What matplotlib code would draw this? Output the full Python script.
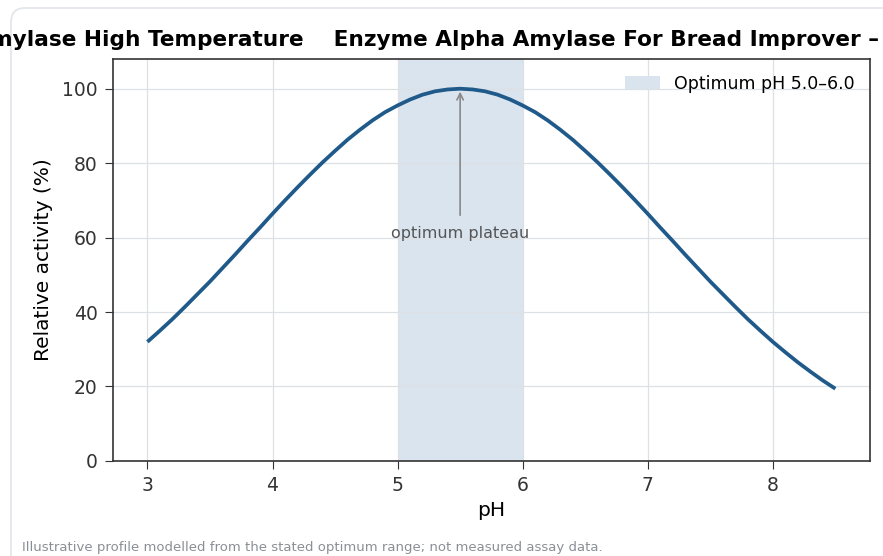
import matplotlib.pyplot as plt
from matplotlib.patches import FancyBboxPatch
from matplotlib.transforms import IdentityTransform

# pH profile (0.1 pH steps)
ph = [3.0, 3.1, 3.2, 3.3, 3.4, 3.5, 3.6, 3.7, 3.8, 3.9,
      4.0, 4.1, 4.2, 4.3, 4.4, 4.5, 4.6, 4.7, 4.8, 4.9,
      5.0, 5.1, 5.2, 5.3, 5.4, 5.5, 5.6, 5.7, 5.8, 5.9,
      6.0, 6.1, 6.2, 6.3, 6.4, 6.5, 6.6, 6.7, 6.8, 6.9,
      7.0, 7.1, 7.2, 7.3, 7.4, 7.5, 7.6, 7.7, 7.8, 7.9,
      8.0, 8.1, 8.2, 8.3, 8.4, 8.5]
activity = [32.0, 35.0, 38.1, 41.4, 44.8, 48.2, 51.8, 55.4, 59.1, 62.7,
            66.4, 70.0, 73.5, 76.9, 80.2, 83.3, 86.3, 89.0, 91.5, 93.7,
            95.5, 97.1, 98.4, 99.3, 99.8, 100.0, 99.8, 99.3, 98.4, 97.1,
            95.5, 93.7, 91.5, 89.0, 86.3, 83.3, 80.2, 76.9, 73.5, 70.0,
            66.4, 62.7, 59.1, 55.4, 51.8, 48.2, 44.8, 41.4, 38.1, 35.0,
            32.0, 29.2, 26.5, 24.0, 21.6, 19.4]
opt_range = (5.0, 6.0)
opt_peak = 5.5

title = "Alpha Amylase High Temperature    Enzyme Alpha Amylase For Bread Improver \u2013 pH Activity Profile"
note = "Illustrative profile modelled from the stated optimum range; not measured assay data."

fig = plt.figure(figsize=(8.83, 5.56), dpi=100)
ax = fig.add_axes([0.128, 0.171, 0.857, 0.723])

# card border (clipped on the right like the original)
card = FancyBboxPatch((11, -30), 920, 578, boxstyle="round,pad=0,rounding_size=14",
                      fc="none", ec="#e3e6ea", lw=1.3, transform=IdentityTransform())
fig.patches.append(card)

ax.axvspan(opt_range[0], opt_range[1], color="#dae4ee", zorder=0.3, lw=0,
           label="Optimum pH 5.0\u20136.0")
ax.plot(ph, activity, color="#1f5a8a", lw=2.7, zorder=3, solid_capstyle="butt")

ax.annotate("optimum plateau", xy=(opt_peak, 99.2), xytext=(opt_peak, 61),
            ha="center", va="center", fontsize=11.5, color="#555555",
            arrowprops=dict(arrowstyle="->", color="#888888", lw=1.2, shrinkA=6, shrinkB=0))

ax.set_xlim(2.725, 8.775)
ax.set_ylim(0, 108)
ax.set_xticks([3, 4, 5, 6, 7, 8])
ax.set_yticks([0, 20, 40, 60, 80, 100])
ax.set_axisbelow(True)
ax.grid(True, color="#dde1e6", lw=0.9)
ax.tick_params(labelsize=13.5, colors="#333333", length=6, pad=5)
for s in ax.spines.values():
    s.set_color("#333333")
    s.set_linewidth(1.2)
ax.set_xlabel("pH", fontsize=14.5, labelpad=4.5)
ax.set_ylabel("Relative activity (%)", fontsize=14.5, labelpad=6.5)
ax.legend(loc="upper right", frameon=False, fontsize=12.5, handlelength=2.0)

# title placed so that the visible part lines up with the original crop
tsize = 15.6
t = fig.text(0, 0.928, title, fontsize=tsize, fontweight="bold", ha="left", va="center")
r = fig.canvas.get_renderer()
pre = fig.text(0, 0, "Alpha Amylase High Temperature", fontsize=tsize, fontweight="bold")
w = pre.get_window_extent(r).width
pre.remove()
t.set_x((304 - w) / fig.bbox.width)

fig.text(22 / 883, 1 - 548 / 556, note, fontsize=9.5, color="#8a8f96", ha="left", va="center")

fig.savefig("out.png", dpi=100)
